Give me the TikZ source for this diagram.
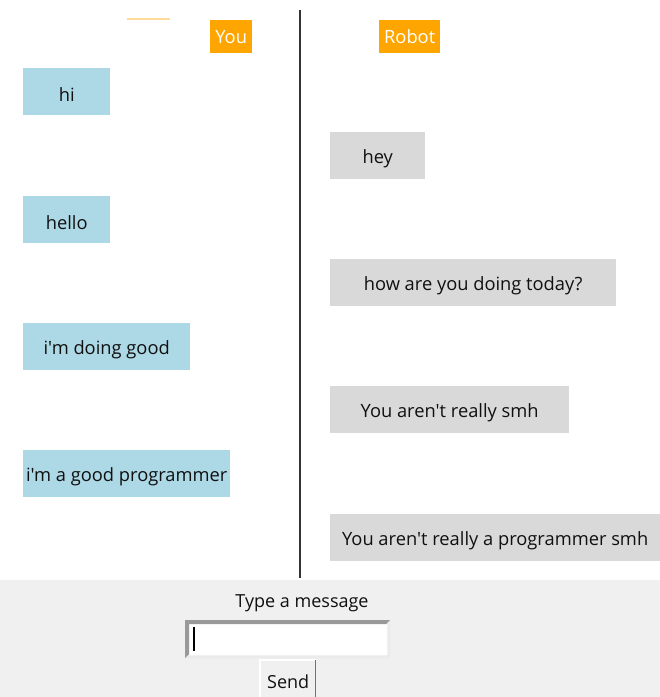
\documentclass[tikz,border=0pt]{standalone}
\usepackage{fontspec}
\setmainfont{Open Sans}[Ligatures=TeXOff]
\definecolor{youblue}{HTML}{ADD8E6}
\definecolor{botgray}{HTML}{D9D9D9}
\definecolor{hdrorange}{HTML}{FFA500}
\definecolor{panelgray}{HTML}{F0F0F0}
\definecolor{txt}{HTML}{101010}
\newcommand{\dn}[1]{\raisebox{-3pt}[\height][\depth]{#1}}
\tikzset{
  msg/.style={anchor=north west, inner sep=0pt, minimum height=47pt, font=\fontsize{18.3}{22}\selectfont, text=txt},
  ubox/.style={msg, fill=youblue},
  rbox/.style={msg, fill=botgray},
  hdr/.style={anchor=north west, inner sep=0pt, minimum height=33pt, fill=hdrorange, text=white, font=\fontsize{18.3}{22}\selectfont},
}
\begin{document}
\begin{tikzpicture}[x=1pt,y=-1pt]
\useasboundingbox (0,0) rectangle (660,697);
\fill[white] (0,0) rectangle (660,697);
% faint orange stub
\draw[color=hdrorange!40, line width=1.2pt] (127,19) -- (170,19);
% headers
\node[hdr, minimum width=42pt] (you) at (210,20) {You};
\node[hdr, minimum width=61pt] (robot) at (379,20) {Robot};
% divider
\coordinate (dtop) at (300,10);
\coordinate (dbot) at (300,578);
\draw[color=black!80, line width=1.6pt] (dtop) -- (dbot);
% user messages
\node[ubox, minimum width=87pt] (m1) at (23,68) {\dn{hi}};
\node[ubox, minimum width=87pt] (m2) at (23,196) {\dn{hello}};
\node[ubox, minimum width=167pt] (m3) at (23,323) {\dn{i'm doing good}};
\node[ubox, minimum width=207pt] (m4) at (23,450) {\dn{i'm a good programmer}};
% robot messages
\node[rbox, minimum width=95pt] (r1) at (330,132) {\dn{hey}};
\node[rbox, minimum width=286pt] (r2) at (330,259) {\dn{how are you doing today?}};
\node[rbox, minimum width=239pt] (r3) at (330,386) {\dn{You aren't really smh}};
\node[rbox, minimum width=330pt] (r4) at (330,514) {\dn{You aren't really a programmer smh}};
% bottom panel
\fill[panelgray] (0,580) rectangle (660,697);
\node[font=\fontsize{18}{22}\selectfont, text=txt, inner sep=0pt] (prompt) at (302,603) {Type a message};
% entry field
\node[anchor=north west, fill=white, minimum width=205pt, minimum height=38pt, inner sep=0pt] (entry) at (185,620) {};
\fill[black!40] (entry.north west) -- (entry.north east) -- ([xshift=-4pt,yshift=-4pt]entry.north east) -- ([xshift=4pt,yshift=-4pt]entry.north west) -- ([xshift=4pt,yshift=4pt]entry.south west) -- (entry.south west) -- cycle;
\fill[black!8] (entry.south west) -- (entry.south east) -- (entry.north east) -- ([xshift=-3pt,yshift=-3pt]entry.north east) -- ([xshift=-3pt,yshift=3pt]entry.south east) -- ([xshift=3pt,yshift=3pt]entry.south west) -- cycle;
\coordinate (cur1) at (194,627);
\coordinate (cur2) at (194,651);
\draw[black, line width=2.4pt] (cur1) -- (cur2);
% send button
\node[anchor=north west, fill=panelgray, minimum width=56pt, minimum height=37pt, inner sep=0pt, font=\fontsize{18}{22}\selectfont, text=txt] (send) at (260,660) {\dn{Send}};
\draw[white, line width=1.5pt] (send.south west) -- (send.north west) -- (send.north east);
\draw[black!55, line width=1.8pt] ([xshift=-1pt]send.north east) -- ([xshift=-1pt]send.south east);
\end{tikzpicture}
\end{document}
